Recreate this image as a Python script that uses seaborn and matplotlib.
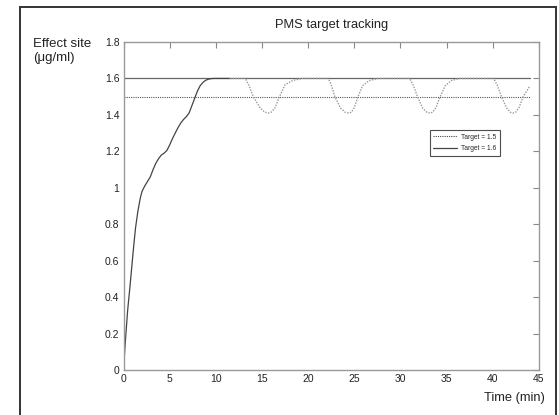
import numpy as np
import pandas as pd
import matplotlib
matplotlib.use('Agg')
import matplotlib.pyplot as plt
import seaborn as sns
from matplotlib.patches import Rectangle
from matplotlib.ticker import FormatStrFormatter

# rise phase (solid curve)
t_rise = [0, 0.2, 0.45, 0.7, 0.9, 1.1, 1.3, 1.55, 1.8, 2.0, 2.3, 2.6, 2.9, 3.2, 3.5,
          3.8, 4.1, 4.4, 4.7, 5.0, 5.3, 5.6, 5.9, 6.2, 6.5, 6.8, 7.1, 7.4, 7.7, 8.0,
          8.3, 8.6, 8.9, 9.2, 9.5, 9.8, 10.5, 11.5]
y_rise = [0, 0.16, 0.33, 0.46, 0.57, 0.68, 0.78, 0.87, 0.94, 0.98, 1.01, 1.035, 1.06,
          1.10, 1.135, 1.16, 1.18, 1.19, 1.205, 1.235, 1.27, 1.30, 1.33, 1.355, 1.375,
          1.39, 1.41, 1.45, 1.49, 1.53, 1.56, 1.578, 1.59, 1.596, 1.599, 1.6, 1.6, 1.6]

# tracking phase (dotted curve)
t_track = [11.5, 13.2, 13.6, 14.06, 14.8, 15.3, 15.7, 16.0, 16.4, 16.9, 17.5, 18.4, 19.4,
           22.2, 22.5, 22.9, 23.5, 24.0, 24.4, 24.7, 25.0, 25.4, 25.9, 26.6, 27.6,
           31.0, 31.4, 31.85, 32.4, 32.85, 33.2, 33.5, 33.85, 34.3, 34.85, 35.5, 36.4,
           40.1, 40.5, 40.95, 41.5, 41.9, 42.2, 42.5, 42.85, 43.3, 44.0]
y_track = [1.6, 1.6, 1.56, 1.5, 1.438, 1.415, 1.41, 1.415, 1.438, 1.5, 1.566, 1.59, 1.6,
           1.6, 1.565, 1.5, 1.438, 1.415, 1.41, 1.415, 1.44, 1.5, 1.56, 1.588, 1.6,
           1.6, 1.562, 1.5, 1.438, 1.415, 1.41, 1.415, 1.44, 1.5, 1.56, 1.588, 1.6,
           1.6, 1.562, 1.5, 1.438, 1.415, 1.41, 1.415, 1.44, 1.5, 1.557]

# target lines
t_target = [0, 44]
target_15 = [1.5, 1.5]
target_16 = [1.6, 1.6]

x_ticks = [0, 5, 10, 15, 20, 25, 30, 35, 40, 45]
y_ticks = [0, 0.2, 0.4, 0.6, 0.8, 1.0, 1.2, 1.4, 1.6, 1.8]

sns.set_style('white')
plt.rcParams['font.family'] = ['Liberation Sans', 'DejaVu Sans']

fig = plt.figure(figsize=(5.59, 4.15), dpi=100)
ax = fig.add_axes([0.221, 0.1084, 0.743, 0.7904])

sns.lineplot(x=t_target, y=target_15, ax=ax, color='#555555', lw=0.8,
             linestyle=(0, (1, 1)), label='Target = 1.5')
sns.lineplot(x=t_target, y=target_16, ax=ax, color='#666666', lw=0.9,
             label='Target = 1.6')
sns.lineplot(x=t_rise, y=y_rise, ax=ax, color='#444444', lw=0.9)
sns.lineplot(x=t_track, y=y_track, ax=ax, color='#999999', lw=1.0,
             linestyle=(0, (1, 1)))

ax.set_xlim(0, 45)
ax.set_ylim(0, 1.8)
ax.set_xticks(x_ticks)
ax.set_yticks(y_ticks)
ax.yaxis.set_major_formatter(FormatStrFormatter('%g'))
ax.tick_params(direction='in', length=4, width=0.8, color='#888888',
               labelsize=7.5, labelcolor='#222222', top=True, right=True,
               labeltop=False, labelright=False, pad=3)
for s in ax.spines.values():
    s.set_color('#999999')
    s.set_linewidth(1.0)

ax.set_xlabel('')
ax.set_ylabel('')
ax.set_title('PMS target tracking', fontsize=9.3, color='#222222', pad=10)

leg = ax.legend(loc='upper left', bbox_to_anchor=(0.729, 0.742), fontsize=4.8,
                frameon=True, fancybox=False, handlelength=3.6, borderpad=0.55,
                labelspacing=0.65, handletextpad=0.6)
leg.get_frame().set_edgecolor('#222222')
leg.get_frame().set_linewidth(0.8)
for h in leg.get_lines():
    h.set_color('#444444')

fig.text(33 / 559, 1 - 51 / 415, 'Effect site\n(\u03bcg/ml)', fontsize=9.5,
         color='#222222', ha='left', va='center', linespacing=1.2)
fig.text(545 / 559, 1 - 398 / 415, 'Time (min)', fontsize=9.3, color='#222222',
         ha='right', va='center')

fig.patches.append(Rectangle((20 / 559, -0.05), 536 / 559, 1.05 - 7 / 415,
                             transform=fig.transFigure, fill=False,
                             edgecolor='#333333', lw=1.4))

fig.savefig('out.png', dpi=100)
